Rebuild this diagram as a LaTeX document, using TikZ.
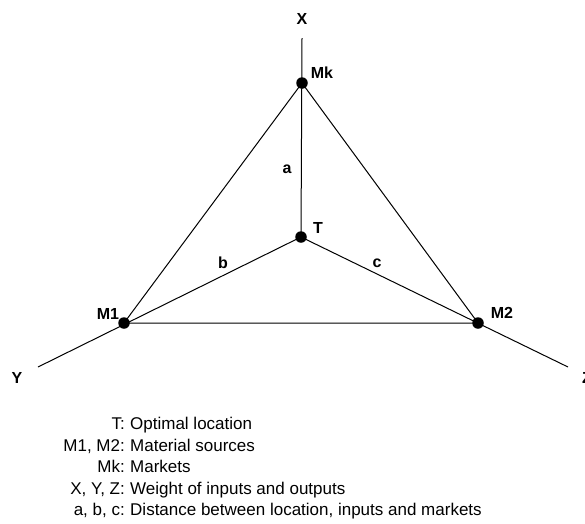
\documentclass[tikz,border=0pt]{standalone}
\usepackage{fontspec}
\setmainfont{Liberation Sans}
\begin{document}
\begin{tikzpicture}[x=1pt,y=-1pt,
  dot/.style={circle,fill=black,inner sep=0pt,minimum size=11.5pt},
  lbl/.style={font=\fontsize{16}{18}\selectfont\bfseries,inner sep=0pt},
  leg/.style={font=\fontsize{17}{20}\selectfont,inner sep=0pt},
  edge/.style={line width=1pt}]
\useasboundingbox (0,0) rectangle (585,523);
\node[dot] (Mk) at (302,83) {};
\node[dot] (T) at (301,237) {};
\node[dot] (M1) at (124,323) {};
\node[dot] (M2) at (478,323) {};
\coordinate (xe) at (302,38);
\coordinate (ye) at (38,367);
\coordinate (ze) at (568,367);
\draw[edge] (Mk.center) -- (M1.center) -- (M2.center) -- cycle;
\draw[edge] (xe) -- (T.center);
\draw[edge] (ye) -- (T.center) -- (ze);
\node[lbl] (lx) at (302,19) {X};
\node[lbl] (ly) at (17,378) {Y};
\node[lbl,anchor=west] (lz) at (582,378) {Z};
\node[lbl] (lmk) at (322,73) {Mk};
\node[lbl] (lt) at (318,228) {T};
\node[lbl] (lm1) at (108,314) {M1};
\node[lbl] (lm2) at (502,313) {M2};
\node[lbl] (la) at (287,169) {a};
\node[lbl] (lb) at (223,263) {b};
\node[lbl] (lc) at (377,263) {c};
\foreach \k/\t/\d/\y in {1/T:/Optimal location/429, 2/{M1, M2:}/Material sources/451, 3/Mk:/Markets/472, 4/{X, Y, Z:}/Weight of inputs and outputs/494, 5/{a, b, c:}/{Distance between location, inputs and markets}/515}{
  \node[leg,anchor=base east] (k\k) at (125,\y) {\t};
  \node[leg,anchor=base west] (d\k) at (130,\y) {\d};
}
\end{tikzpicture}
\end{document}
